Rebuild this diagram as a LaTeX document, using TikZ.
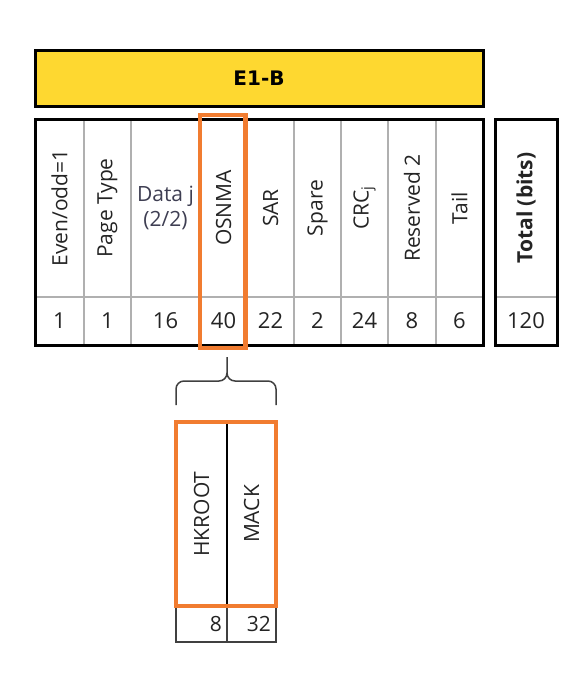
\documentclass[tikz,border=0pt]{standalone}
\usepackage{fontspec}
\setmainfont{Open Sans}
\newfontfamily\titlefont{DejaVu Sans}
\usetikzlibrary{positioning,calc}

\definecolor{e1yellow}{RGB}{254,216,48}
\definecolor{osnmaorange}{RGB}{241,124,48}
\definecolor{gridgray}{RGB}{176,176,176}
\definecolor{txtgray}{RGB}{36,36,36}
\definecolor{datablue}{RGB}{62,62,82}
\definecolor{bracegray}{RGB}{64,64,64}

\newcommand{\vt}[1]{\rotatebox{90}{#1}}

\tikzset{
  cell/.style={draw=gridgray,line width=1.5pt,outer sep=0pt,inner sep=0pt,
    text=txtgray,font=\fontsize{21}{25}\selectfont},
  hcell/.style={cell,minimum width=#1,minimum height=178pt},
  ncell/.style={cell,minimum width=#1,minimum height=48pt,font=\fontsize{22}{25}\selectfont},
  frame/.style={draw=black,line width=3pt},
  hilite/.style={draw=osnmaorange,line width=4.5pt},
  subcell/.style={cell,draw=none,minimum width=#1,minimum height=184pt},
  subnum/.style={cell,draw=bracegray,line width=1.2pt,text width=#1,align=right,
    inner xsep=5pt,minimum height=36pt},
  brace/.style={draw=bracegray,line width=1.5pt,rounded corners=8pt}
}

\begin{document}
\begin{tikzpicture}[x=1pt,y=-1pt]
  \useasboundingbox (0,0) rectangle (588,688);

  % header row
  \node [hcell=49pt,anchor=north west] (even) at (35,119) {\vt{Even/odd=1}};
  \node [hcell=47pt,right=0pt of even] (ptype) {\vt{Page Type}};
  \node [hcell=69pt,right=0pt of ptype,align=center,text=datablue] (data) {Data j\\(2/2)};
  \node [hcell=47pt,right=0pt of data] (osnma) {\vt{OSNMA}};
  \node [hcell=47pt,right=0pt of osnma] (sar) {\vt{SAR}};
  \node [hcell=47pt,right=0pt of sar] (spare) {\vt{Spare}};
  \node [hcell=47pt,right=0pt of spare] (crc) {\vt{CRC\textsubscript{j}}};
  \node [hcell=48pt,right=0pt of crc] (resv) {\vt{Reserved 2}};
  \node [hcell=47pt,right=0pt of resv] (tail) {\vt{Tail}};
  \node [hcell=62pt,anchor=north west] (total) at (495,119) {\vt{\bfseries Total (bits)}};

  % bits row
  \node [ncell=49pt,below=0pt of even] (neven) {1};
  \node [ncell=47pt,below=0pt of ptype] (nptype) {1};
  \node [ncell=69pt,below=0pt of data] (ndata) {16};
  \node [ncell=47pt,below=0pt of osnma] (nosnma) {40};
  \node [ncell=47pt,below=0pt of sar] (nsar) {22};
  \node [ncell=47pt,below=0pt of spare] (nspare) {2};
  \node [ncell=47pt,below=0pt of crc] (ncrc) {24};
  \node [ncell=48pt,below=0pt of resv] (nresv) {8};
  \node [ncell=47pt,below=0pt of tail] (ntail) {6};
  \node [ncell=62pt,below=0pt of total] (ntotal) {120};

  \draw [frame] (even.north west) rectangle (ntail.south east);
  \draw [frame] (total.north west) rectangle (ntotal.south east);

  \node [above right=13pt and 0pt of even.north west,frame,fill=e1yellow,outer sep=0pt,
    minimum width=448pt,minimum height=56pt,
    font=\titlefont\bfseries\fontsize{20}{22}\selectfont] (e1b) {E1-B};

  \draw [hilite] ($(osnma.north west)+(0,-4)$) rectangle ($(nosnma.south east)+(-1.5,3)$);

  % OSNMA split
  \node [subcell=51pt,anchor=north west] (hkroot) at (176,422) {\vt{HKROOT}};
  \node [subcell=49pt,right=0pt of hkroot] (mack) {\vt{MACK}};
  \node [subnum=41pt,below=0pt of hkroot] (nhkroot) {8};
  \node [subnum=39pt,below=0pt of mack] (nmack) {32};
  \draw [line width=2pt] (hkroot.north east) -- (hkroot.south east);
  \draw [hilite] (hkroot.north west) rectangle (mack.south east);

  \coordinate (bl) at ($(hkroot.north west)+(0,-17)$);
  \coordinate (br) at ($(mack.north east)+(0,-17)$);
  \coordinate (bmid) at ($(hkroot.north east)+(0,-41)$);
  \coordinate (btip) at ($(hkroot.north east)+(0,-65)$);
  \draw [brace] (bl) |- (bmid) -- (btip) (btip) -- (bmid) -| (br);
\end{tikzpicture}
\end{document}
